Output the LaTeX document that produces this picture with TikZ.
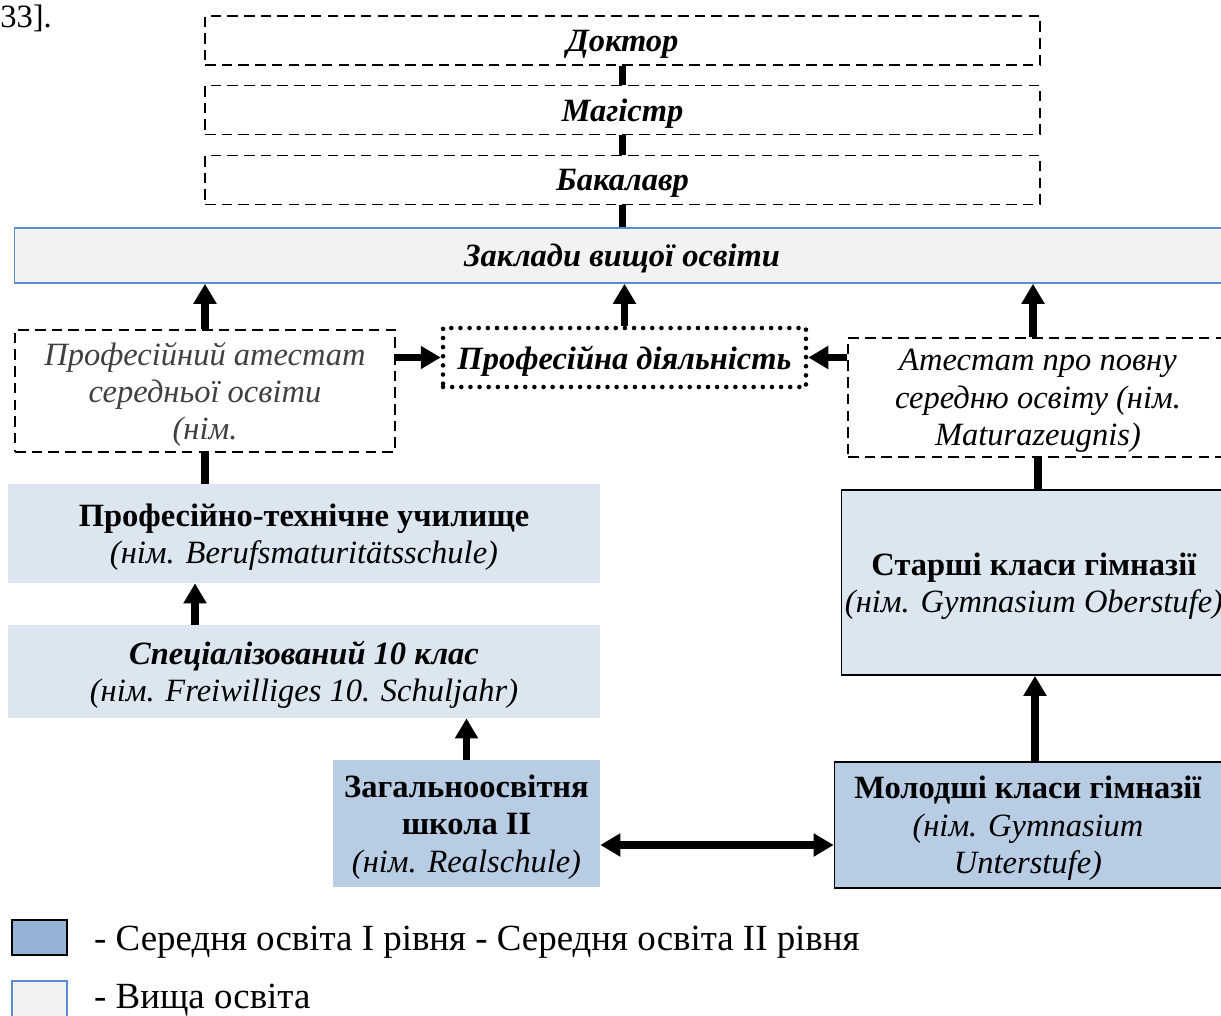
\documentclass[tikz,border=0pt]{standalone}
\usepackage{fontspec}
\setmainfont{Liberation Serif}
\usepackage{xcolor}
\usetikzlibrary{arrows.meta,positioning,calc}

\definecolor{lightblu}{HTML}{DCE6F1}
\definecolor{midblu}{HTML}{B8CCE4}
\definecolor{legblu}{HTML}{95B3D7}
\definecolor{greyfill}{HTML}{F2F2F2}
\definecolor{edgeblu}{HTML}{5B8BD0}

\begin{document}
\begin{tikzpicture}[
    x=0.02cm, y=-0.02cm,
    font=\fontsize{18.5}{21.3}\selectfont,
    every node/.style={text depth=0pt},
    dashbox/.style={draw, dashed, line width=0.8pt, dash pattern=on 6pt off 3.5pt, inner sep=2pt},
    dotbox/.style={draw, line width=2.6pt, dash pattern=on 0pt off 5.2pt, line cap=round},
    bluebox/.style={fill=lightblu, inner sep=2pt, align=center},
    darkbox/.style={fill=midblu, inner sep=2pt, align=center},
    legtext/.style={anchor=west, font=\fontsize{21}{24}\selectfont},
    link/.style={line width=4pt},
    arr/.style={line width=4pt, -{Triangle[length=0.4cm, width=0.44cm]}},
    arrboth/.style={line width=4pt, {Triangle[length=0.4cm, width=0.44cm]}-{Triangle[length=0.4cm, width=0.44cm]}}
]
    \useasboundingbox (0,0) rectangle (1221,1016);

    \node[anchor=west, inner sep=0pt] (ref) at (0,16) {33].};

    % degrees
    \node[dashbox, minimum width=16.7cm, minimum height=0.98cm] (dok) at (622.5,40.5) {\textbf{\textit{Доктор}}};
    \node[dashbox, minimum width=16.7cm, minimum height=0.98cm] (mag) at (622.5,110) {\textbf{\textit{Магістр}}};
    \node[dashbox, minimum width=16.7cm, minimum height=0.98cm] (bak) at (622.5,180) {\textbf{\textit{Бакалавр}}};
    \node[draw=edgeblu, line width=0.9pt, fill=greyfill, minimum width=24.3cm, minimum height=1.1cm] (zvo) at (622,255.5) {\textbf{\textit{Заклади вищої освіти}}};

    % certificates
    \node[dashbox, minimum width=7.6cm, minimum height=2.44cm, align=center, text=black!75] (pas) at (205,391)
        {\textit{Професійний атестат}\\ \textit{середньої освіти}\\ \textit{(нім.}};
    \node[dotbox, minimum width=7.26cm, minimum height=1.18cm] (pd) at (624.5,357.5) {\textbf{\textit{Професійна діяльність}}};
    \node[dashbox, minimum width=7.6cm, minimum height=2.38cm, align=center] (atp) at (1038,397.5)
        {\textit{Атестат про повну}\\ \textit{середню освіту (нім.}\\ \textit{Maturazeugnis)}};

    % schools
    \node[bluebox, minimum width=11.84cm, minimum height=1.98cm] (ptu) at (304,533.5)
        {\textbf{Професійно-технічне училище}\\ \textit{(нім. Berufsmaturitätsschule)}};
    \node[bluebox, minimum width=11.84cm, minimum height=1.86cm] (spec) at (304,671.5)
        {\textbf{\textit{Спеціалізований 10 клас}}\\ \textit{(нім. Freiwilliges 10. Schuljahr)}};
    \node[darkbox, minimum width=5.34cm, minimum height=2.54cm] (zag) at (466.5,823.5)
        {\textbf{Загальноосвітня}\\ \textbf{школа II}\\ \textit{(нім. Realschule)}};
    \node[bluebox, draw, line width=1pt, minimum width=7.68cm, minimum height=3.7cm] (star) at (1034,582.5)
        {\textbf{Старші класи гімназії}\\ \textit{(нім. Gymnasium Oberstufe)}};
    \node[darkbox, draw, line width=1pt, minimum width=7.74cm, minimum height=2.52cm] (mol) at (1028,825)
        {\textbf{Молодші класи гімназії}\\ \textit{(нім. Gymnasium}\\ \textit{Unterstufe)}};

    % connectors
    \draw[link] (dok) -- (mag);
    \draw[link] (mag) -- (bak);
    \draw[link] (bak.south) -- (bak.south |- zvo.north);
    \draw[arr] (pas.north) -- (pas.north |- zvo.south);
    \draw[arr] (pd.north) -- (pd.north |- zvo.south);
    \draw[arr] ([xshift=-0.1cm]atp.north) -- ([xshift=-0.1cm]atp.north |- zvo.south);
    \draw[arr] (pas.east |- pd) -- (pd.west);
    \draw[arr] (atp.west |- pd) -- (pd.east);
    \draw[link] (pas.south) -- (pas.south |- ptu.north);
    \draw[arr] ([xshift=-0.2cm]spec.north -| pas.south) -- ([xshift=-0.2cm]ptu.south -| pas.south);
    \draw[arr] (zag.north) -- (zag.north |- spec.south);
    \draw[arrboth] ([yshift=-0.43cm]zag.east) -- ([yshift=-0.43cm]zag.east -| mol.west);
    \draw[arr] ([xshift=0.14cm]mol.north) -- ([xshift=0.14cm]mol.north |- star.south);
    \draw[link] (atp.south) -- (atp.south |- star.north);

    % legend
    \node[draw, line width=1pt, fill=legblu, minimum width=1.1cm, minimum height=0.7cm] (leg1) at (39.5,937.5) {};
    \node[legtext] (leg1txt) at (88,938) {- Середня освіта I рівня - Середня освіта II рівня};
    \node[draw=edgeblu, line width=1pt, fill=greyfill, minimum width=1.1cm, minimum height=0.72cm] (leg2) at (39.5,999) {};
    \node[legtext] (leg2txt) at (88,996) {- Вища освіта};
\end{tikzpicture}
\end{document}
